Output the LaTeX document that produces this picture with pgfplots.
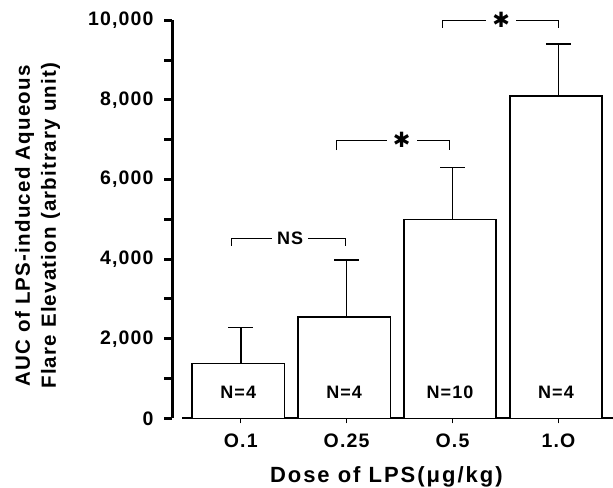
\documentclass[border=0pt]{standalone}
\usepackage{pgfplots}
\pgfplotsset{compat=1.18}
\usepackage{fontspec}
\setmainfont{Liberation Sans}[LetterSpace=6]
\newfontfamily\dejavu{DejaVu Sans}
\begin{document}
\begin{tikzpicture}
\begin{axis}[
  x=105.9pt, y=0.0398pt,
  xmin=-0.554, xmax=3.515, ymin=0, ymax=10000,
  axis x line*=bottom, axis y line*=left,
  axis y line shift=10pt,
  x axis line style={line width=2.2pt},
  y axis line style={line width=3pt},
  clip=false,
  xtick={0,1,2,3}, xticklabels={O.1,O.25,O.5,1.O},
  ytick={0,2000,4000,6000,8000,10000},
  minor ytick={1000,3000,5000,7000,9000},
  tick align=outside,
  major tick length=8pt, minor tick length=8pt,
  ytick style={line width=3pt, black},
  minor tick style={line width=3pt, black},
  xtick style={line width=1.5pt, black, /pgfplots/major tick length=5pt},
  scaled y ticks=false,
  /pgf/number format/1000 sep={,},
  /pgf/number format/assume math mode=true,
  tick label style={font=\bfseries\fontsize{19.5}{21}\selectfont},
  yticklabel style={xshift=-7pt},
  xticklabel style={yshift=-4pt},
  ylabel={AUC of LPS-induced Aqueous\\Flare Elevation (arbitrary unit)},
  ylabel style={at={(axis description cs:-0.335,0.484)}, anchor=center, align=center, font=\bfseries\fontsize{20.5}{26}\selectfont},
  xlabel={Dose of LPS(μg/kg)},
  xlabel style={at={(axis description cs:0.474,-0.1475)}, anchor=center, font=\bfseries\addfontfeature{LetterSpace=9}\fontsize{22}{24}\selectfont},
]
\addplot[ybar, bar width=0.87, bar shift=-2.5pt, fill=white, draw=black, line width=1.4pt,
  error bars/.cd, y dir=plus, y explicit,
  error bar style={line width=1.6pt, black},
  error mark options={rotate=90, mark size=12.5pt, line width=1.6pt, black}]
  coordinates {(0,1370) +- (0,910) (1,2550) +- (0,1425) (2,5000) +- (0,1300) (3,8100) +- (0,1310)};

\node[font=\bfseries\fontsize{18}{20}\selectfont, xshift=-2.5pt] at (axis cs:0,650) {N=4};
\node[font=\bfseries\fontsize{18}{20}\selectfont, xshift=-2.5pt] at (axis cs:1,650) {N=4};
\node[font=\bfseries\fontsize{18}{20}\selectfont, xshift=-2.5pt] at (axis cs:2,650) {N=10};
\node[font=\bfseries\fontsize{18}{20}\selectfont, xshift=-2.5pt] at (axis cs:3,650) {N=4};

\draw[line width=1pt] (axis cs:-0.085,4330) |- (axis cs:0.985,4530) -- (axis cs:0.985,4330);
\node[fill=white, inner xsep=5pt, inner ysep=1pt, font=\bfseries\fontsize{18}{20}\selectfont] at (axis cs:0.466,4530) {NS};
\draw[line width=1pt] (axis cs:0.90,6740) |- (axis cs:1.974,6992) -- (axis cs:1.974,6740);
\node[fill=white, inner xsep=6pt, inner ysep=1pt, font=\dejavu\bfseries\fontsize{21}{21}\selectfont] at (axis cs:1.52,6992) {✱};
\draw[line width=1pt] (axis cs:1.904,9810) |- (axis cs:3.0,10000) -- (axis cs:3.0,9810);
\node[fill=white, inner xsep=6pt, inner ysep=1pt, font=\dejavu\bfseries\fontsize{21}{21}\selectfont] at (axis cs:2.458,10000) {✱};

\coordinate (TL) at (axis cs:-2.273,10510);
\coordinate (BR) at (axis cs:3.515,-1726);
\end{axis}
\pgfresetboundingbox
\path[use as bounding box] (TL) rectangle (BR);
\end{tikzpicture}
\end{document}
